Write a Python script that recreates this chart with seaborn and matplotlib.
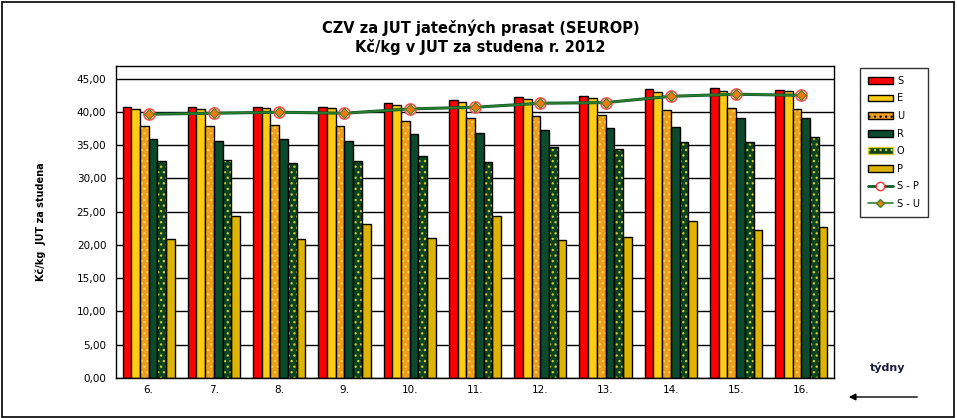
import pandas as pd
import numpy as np
import matplotlib.pyplot as plt
from matplotlib.patches import Rectangle, Patch
from matplotlib.lines import Line2D
from matplotlib.ticker import FuncFormatter, MultipleLocator
import seaborn as sns

# --- DATA (Kč/kg JUT za studena, weeks 6-16 of 2012) ---
weeks = ["6.", "7.", "8.", "9.", "10.", "11.", "12.", "13.", "14.", "15.", "16."]
S = [40.70, 40.70, 40.70, 40.70, 41.30, 41.75, 42.20, 42.35, 43.40, 43.55, 43.25]
E = [40.40, 40.40, 40.55, 40.55, 41.00, 41.45, 41.90, 42.05, 42.95, 43.10, 43.10]
U = [37.85, 37.85, 38.00, 37.85, 38.60, 39.05, 39.35, 39.50, 40.25, 40.55, 40.40]
R = [36.00, 35.70, 35.90, 35.70, 36.65, 36.80, 37.25, 37.55, 37.70, 39.05, 39.05]
O = [32.60, 32.80, 32.30, 32.60, 33.35, 32.40, 34.70, 34.40, 35.45, 35.45, 36.20]
P = [20.85, 24.35, 20.85, 23.10, 21.00, 24.30, 20.70, 21.15, 23.55, 22.20, 22.65]
S_P = [39.65, 39.80, 39.95, 39.80, 40.45, 40.70, 41.30, 41.40, 42.35, 42.65, 42.50]
S_U = [39.65, 39.80, 39.95, 39.80, 40.45, 40.70, 41.30, 41.40, 42.35, 42.65, 42.50]

classes = ["S", "E", "U", "R", "O", "P"]
COLORS = ["#FF0000", "#FFCC14", "#EE9E1E", "#0B4A2C", "#0C4420", "#DDB400"]
HATCH = {2: ("#FFD04A", "..."), 4: ("#D8D020", "...")}

df = pd.DataFrame({
    "week": np.repeat(weeks, len(classes)),
    "class": classes * len(weeks),
    "value": np.column_stack([S, E, U, R, O, P]).ravel(),
})

# --- PLOT ---
sns.set_style("white")
plt.rcParams["font.family"] = ["DejaVu Sans"]
plt.rcParams["hatch.linewidth"] = 0.9
plt.rcParams["text.color"] = "black"
plt.rcParams["xtick.color"] = "black"
plt.rcParams["ytick.color"] = "black"
plt.rcParams["axes.labelcolor"] = "black"

fig = plt.figure(figsize=(9.57, 4.18), dpi=100)
ax = fig.add_axes([0.1212, 0.0957, 0.7503, 0.7464])
ax.set_axisbelow(True)
ax.yaxis.grid(True, color="black", linewidth=1)

sns.barplot(data=df, x="week", y="value", hue="class", hue_order=classes,
            order=weeks, palette=COLORS, width=0.8, edgecolor="black",
            linewidth=1, saturation=1, legend=False, ax=ax)

# dotted patterns: hatch in its own colour, black outline on top
for idx, (hcol, hatch) in HATCH.items():
    for bar in ax.containers[idx]:
        bar.set_edgecolor(hcol)
        bar.set_hatch(hatch)
        bar.set_linewidth(0)
        ax.add_patch(Rectangle(bar.get_xy(), bar.get_width(), bar.get_height(),
                               fill=False, edgecolor="black", linewidth=1, zorder=bar.get_zorder() + 0.1))

xs = np.arange(len(weeks))
ax.plot(xs, S_P, color="#0B5A2A", linewidth=2.2, marker="o", markersize=8,
        markerfacecolor="white", markeredgecolor="#FF5050", markeredgewidth=1.2, zorder=5)
ax.plot(xs, S_U, color="#2E7D2E", linewidth=1.2, marker="D", markersize=5,
        markerfacecolor="#F07810", markeredgecolor="#3A8A2A", markeredgewidth=0.8, zorder=6)

ax.set_ylim(0, 46.9)
ax.set_xlim(-0.5, len(weeks) - 0.5)
ax.yaxis.set_major_locator(MultipleLocator(5))
ax.yaxis.set_major_formatter(FuncFormatter(lambda v, p: f"{v:.2f}".replace(".", ",")))
ax.set_xticks(np.arange(len(weeks) + 1) - 0.5, minor=True)
ax.tick_params(axis="x", which="major", length=0, labelsize=7.5, pad=5)
ax.tick_params(axis="x", which="minor", length=5, width=1, direction="out", color="black")
ax.tick_params(axis="y", length=4, width=1, direction="out", color="black", labelsize=7.5, pad=3)
for sp in ax.spines.values():
    sp.set_color("black")
    sp.set_linewidth(1)
ax.set_xlabel("")
ax.set_ylabel("Kč/kg  JUT za studena", fontsize=7, fontweight="bold", labelpad=22)

fig.text(0.502, 0.91, "CZV za JUT jatečných prasat (SEUROP)\nKč/kg v JUT za studena r. 2012",
         ha="center", va="center", fontsize=10.5, fontweight="bold", linespacing=1.25)
fig.text(0.928, 0.122, "týdny", ha="center", va="center", fontsize=8, fontweight="bold", color="#1a1a40")
fig.add_artist(plt.Annotation("", xy=(846 / 957, 1 - 397 / 418), xytext=(920 / 957, 1 - 397 / 418),
                              xycoords="figure fraction",
                              arrowprops=dict(arrowstyle="-|>", color="black", lw=1, mutation_scale=10)))

handles = [Patch(facecolor=c, edgecolor="black", linewidth=1) for c in COLORS]
handles[2] = Patch(facecolor=COLORS[2], edgecolor="black", hatch="...", linewidth=1)
handles[4] = Patch(facecolor=COLORS[4], edgecolor="#D8D020", hatch="...", linewidth=1)
handles += [
    Line2D([], [], color="#0B5A2A", lw=2, marker="o", markersize=6, markerfacecolor="white", markeredgecolor="#FF3030"),
    Line2D([], [], color="#2E7D2E", lw=1.2, marker="D", markersize=4, markerfacecolor="#F07810", markeredgecolor="#3A8A2A"),
]
leg = fig.legend(handles, classes + ["S - P", "S - U"], loc="upper left",
                 bbox_to_anchor=(860 / 957, 1 - 68 / 418), borderaxespad=0, fontsize=7,
                 handlelength=2.6, handleheight=0.7, labelspacing=0.78, handletextpad=0.4,
                 borderpad=0.8, fancybox=False, frameon=True)
leg.get_frame().set_edgecolor("black")
leg.get_frame().set_linewidth(1)

fig.add_artist(Rectangle((0.002, 0.003), 0.995, 0.993, transform=fig.transFigure,
                         fill=False, edgecolor="black", linewidth=1.2))

fig.savefig("out.png", dpi=100, facecolor="white")
